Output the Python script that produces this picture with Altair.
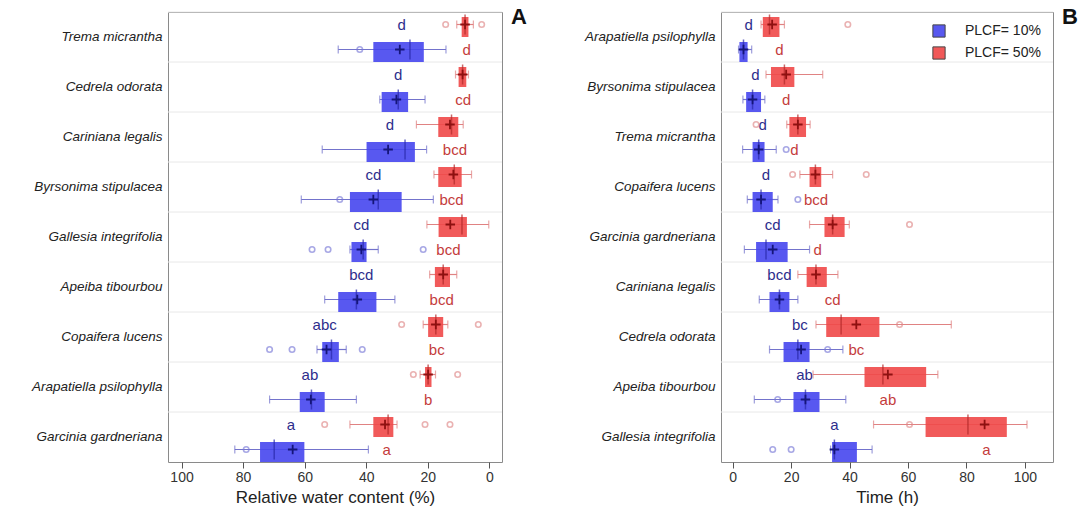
import altair as alt
import pandas as pd

G10 = "PLCF= 10%"
G50 = "PLCF= 50%"
FONT = "Liberation Sans"

# ---------------- Panel A : Relative water content (%) ----------------
species_A = ["Trema micrantha", "Cedrela odorata", "Cariniana legalis",
             "Byrsonima stipulacea", "Gallesia integrifolia", "Apeiba tibourbou",
             "Copaifera lucens", "Arapatiella psilophylla", "Garcinia gardneriana"]

a10_lo = [14.1, 20.9, 20.4, 18.2, 36.1, 30.7, 46.5, 43.2, 39.3]
a10_q1 = [21.3, 26.4, 24.2, 28.5, 39.9, 36.7, 48.9, 53.5, 60.1]
a10_med = [25.8, 29.6, 27.4, 36.1, 41.0, 43.2, 51.3, 57.8, 69.9]
a10_q3 = [37.7, 35.0, 39.9, 45.3, 44.8, 49.1, 54.3, 61.6, 74.5]
a10_hi = [49.1, 35.6, 54.3, 61.1, 45.3, 53.5, 56.0, 71.4, 82.7]
a10_mean = [29.1, 30.2, 32.9, 37.7, 41.6, 42.9, 52.9, 58.0, 63.9]
a10_letters = ["d", "d", "d", "cd", "cd", "bcd", "abc", "ab", "a"]
a10_letter_x = [28.5, 29.6, 32.3, 37.7, 41.6, 41.6, 53.5, 58.3, 64.5]
a10_pts = [("Trema micrantha", 42.1), ("Byrsonima stipulacea", 48.6),
           ("Gallesia integrifolia", 57.6), ("Gallesia integrifolia", 52.4),
           ("Gallesia integrifolia", 21.5), ("Copaifera lucens", 71.4),
           ("Copaifera lucens", 64.1), ("Copaifera lucens", 41.3),
           ("Garcinia gardneriana", 79.0)]

a50_lo = [5.2, 6.8, 8.5, 5.8, 0.2, 10.6, 13.5, 17.5, 30.0]
a50_q1 = [6.8, 7.5, 10.1, 9.0, 7.3, 12.8, 15.0, 18.8, 31.2]
a50_med = [7.9, 8.7, 12.3, 11.4, 8.9, 15.0, 17.4, 19.9, 32.9]
a50_q3 = [9.0, 10.0, 16.6, 16.6, 16.5, 17.7, 19.9, 20.9, 37.7]
a50_hi = [10.6, 11.0, 23.7, 18.0, 20.3, 19.4, 21.5, 22.5, 45.3]
a50_mean = [7.9, 8.7, 12.8, 11.7, 12.7, 15.0, 17.4, 19.9, 33.9]
a50_letters = ["d", "cd", "bcd", "bcd", "bcd", "bcd", "bc", "b", "a"]
a50_letter_x = [7.4, 8.5, 11.2, 12.3, 13.3, 15.5, 17.1, 19.9, 33.4]
a50_pts = [("Trema micrantha", 14.2), ("Trema micrantha", 2.5),
           ("Copaifera lucens", 28.5), ("Copaifera lucens", 3.6),
           ("Arapatiella psilophylla", 24.7), ("Arapatiella psilophylla", 10.3),
           ("Garcinia gardneriana", 53.5), ("Garcinia gardneriana", 20.9),
           ("Garcinia gardneriana", 12.8)]

# ---------------- Panel B : Time (h) ----------------
species_B = ["Arapatiella psilophylla", "Byrsonima stipulacea", "Trema micrantha",
             "Copaifera lucens", "Garcinia gardneriana", "Cariniana legalis",
             "Cedrela odorata", "Apeiba tibourbou", "Gallesia integrifolia"]

b10_lo = [2.0, 3.5, 3.4, 5.0, 4.0, 9.1, 12.6, 7.4, 33.5]
b10_q1 = [2.3, 4.6, 6.8, 6.8, 8.0, 12.6, 17.4, 20.8, 34.0]
b10_med = [3.7, 6.8, 8.9, 9.7, 11.4, 16.0, 22.3, 24.9, 34.8]
b10_q3 = [5.1, 9.7, 10.9, 13.7, 18.8, 19.4, 26.3, 29.7, 42.5]
b10_hi = [6.5, 11.0, 14.9, 15.5, 26.3, 22.3, 37.7, 38.7, 47.7]
b10_mean = [3.7, 6.8, 8.9, 9.7, 13.7, 16.0, 23.4, 24.9, 34.8]
b10_letters = ["d", "d", "d", "d", "cd", "bcd", "bc", "ab", "a"]
b10_letter_x = [5.5, 7.8, 10.3, 11.4, 13.7, 16.0, 23.0, 24.6, 34.8]
b10_pts = [("Trema micrantha", 18.3), ("Copaifera lucens", 22.3),
           ("Cedrela odorata", 32.5), ("Apeiba tibourbou", 15.4),
           ("Gallesia integrifolia", 13.7), ("Gallesia integrifolia", 20.0)]

b50_lo = [9.7, 11.4, 18.5, 23.0, 26.3, 22.3, 28.5, 27.5, 48.2]
b50_q1 = [10.3, 13.1, 19.4, 26.3, 31.4, 25.3, 32.0, 45.1, 66.0]
b50_med = [12.6, 17.7, 22.3, 28.3, 34.2, 28.5, 37.1, 51.4, 80.5]
b50_q3 = [16.0, 21.1, 25.1, 30.3, 38.3, 32.2, 50.2, 66.2, 93.8]
b50_hi = [17.7, 30.8, 26.5, 34.2, 39.9, 36.0, 74.8, 70.2, 100.7]
b50_mean = [13.5, 18.3, 22.3, 28.3, 34.2, 28.5, 42.3, 53.1, 86.2]
b50_letters = ["d", "d", "d", "bcd", "d", "cd", "bc", "ab", "a"]
b50_letter_x = [16.0, 18.3, 21.1, 28.5, 29.1, 34.2, 42.3, 53.1, 86.8]
b50_pts = [("Arapatiella psilophylla", 39.4), ("Trema micrantha", 8.0),
           ("Copaifera lucens", 20.5), ("Copaifera lucens", 45.7),
           ("Garcinia gardneriana", 60.5), ("Cedrela odorata", 57.1),
           ("Gallesia integrifolia", 60.5)]

BLUE = dict(box="#4646ee", whisk="#7373cc", med="#2828a8", mean="#15157a",
            pt="#7a7ad8", letter="#2d2d8c")
RED = dict(box="#f04848", whisk="#e08282", med="#b02828", mean="#8e1010",
           pt="#e08a8a", letter="#c43c3c")

COLOR_SCALE = alt.Scale(domain=[G10, G50], range=[BLUE["box"], RED["box"]])
CROSS = "M-1,0L1,0M0,-1L0,1"


def y_enc(species, band_pos=None):
    kw = {}
    if band_pos is not None:
        kw["bandPosition"] = band_pos
    return alt.Y("species:N", sort=species, title=None,
                 scale=alt.Scale(paddingInner=0, paddingOuter=0),
                 axis=alt.Axis(labelFont=FONT, labelFontStyle="italic",
                               labelFontSize=13.5, labelColor="#222222",
                               ticks=False, domain=False, grid=False,
                               labelPadding=6), **kw)


def yoff(field):
    return alt.YOffset(field, scale=alt.Scale(domain=[G50, G10],
                                              paddingInner=0, paddingOuter=0))


def group_layers(species, group, other, lo, q1, med, q3, hi, mean, letters,
                 letter_x, pts, col, x_scale, x_axis, x_title, legend):
    df = pd.DataFrame({"species": species, "group": group, "lrow": other,
                       "lo": lo, "q1": q1, "med": med, "q3": q3, "hi": hi,
                       "mean": mean, "letter": letters, "lx": letter_x})
    pdf = pd.DataFrame({"species": [p[0] for p in pts],
                        "v": [p[1] for p in pts], "group": group})
    y = y_enc(species)

    def X(f):
        return alt.X(f, scale=x_scale, axis=x_axis, title=x_title)

    base = alt.Chart(df)
    whisk = base.mark_rule(color=col["whisk"], strokeWidth=1.2).encode(
        x=X("lo:Q"), x2="hi:Q", y=y, yOffset=yoff("group:N"))
    cap_lo = base.mark_tick(color=col["whisk"], size=8, thickness=1.2).encode(
        x=X("lo:Q"), y=y, yOffset=yoff("group:N"))
    cap_hi = base.mark_tick(color=col["whisk"], size=8, thickness=1.2).encode(
        x=X("hi:Q"), y=y, yOffset=yoff("group:N"))
    box = base.mark_bar(height=alt.RelativeBandSize(0.8), opacity=0.9).encode(
        x=X("q1:Q"), x2="q3:Q", y=y, yOffset=yoff("group:N"),
        color=alt.Color("group:N", scale=COLOR_SCALE, legend=legend))
    median = base.mark_tick(color=col["med"], size=20, thickness=1.5).encode(
        x=X("med:Q"), y=y, yOffset=yoff("group:N"))
    meanp = base.mark_point(shape=CROSS, filled=False, size=90,
                            strokeWidth=1.8, color=col["mean"], opacity=1).encode(
        x=X("mean:Q"), y=y, yOffset=yoff("group:N"))
    points = alt.Chart(pdf).mark_point(shape="circle", filled=False, size=30,
                                       strokeWidth=1.6, color=col["pt"],
                                       opacity=0.65).encode(
        x=X("v:Q"), y=y, yOffset=yoff("group:N"))
    text = base.mark_text(font=FONT, fontSize=15, color=col["letter"]).encode(
        x=X("lx:Q"), y=y, yOffset=yoff("lrow:N"), text="letter:N")
    return [whisk, cap_lo, cap_hi, points, box, median, meanp, text]


def panel(species, g10, g50, x_scale, x_title, label, width, legend):
    x_axis = alt.Axis(values=[0, 20, 40, 60, 80, 100], tickSize=6,
                      tickColor="#555555", labelFont=FONT, labelFontSize=14,
                      labelColor="#333333", titleFont=FONT, titleFontSize=17,
                      titleFontWeight="normal", titleColor="#222222",
                      domain=False, grid=False, labelPadding=2, titlePadding=5)
    grid = alt.Chart(pd.DataFrame({"species": species})).mark_rule(
        color="#e8e8e8", strokeWidth=1).encode(y=y_enc(species, 0))
    l10 = group_layers(species, G10, G50, *g10, BLUE, x_scale, x_axis, x_title, legend)
    l50 = group_layers(species, G50, G10, *g50, RED, x_scale, x_axis, x_title, legend)
    tag = alt.Chart(pd.DataFrame({"t": [label]})).mark_text(
        font=FONT, fontSize=22, fontWeight="bold", align="left",
        baseline="middle", color="#111111").encode(
        text="t:N", x=alt.value(width + 9), y=alt.value(5))
    return alt.layer(grid, *l10, *l50, tag).properties(width=width, height=450)


scale_A = alt.Scale(domain=[-4.1, 104.4], reverse=True, nice=False, zero=False)
scale_B = alt.Scale(domain=[-4.0, 109.6], nice=False, zero=False)

legend_B = alt.Legend(title=None, orient="top-right", offset=12,
                      symbolType="square", symbolSize=150,
                      symbolStrokeColor="#333333", symbolStrokeWidth=1,
                      symbolOpacity=0.9, labelFont=FONT, labelFontSize=14,
                      labelColor="#222222", labelOffset=19, rowPadding=4,
                      padding=0)

pA = panel(species_A,
           (a10_lo, a10_q1, a10_med, a10_q3, a10_hi, a10_mean, a10_letters, a10_letter_x, a10_pts),
           (a50_lo, a50_q1, a50_med, a50_q3, a50_hi, a50_mean, a50_letters, a50_letter_x, a50_pts),
           scale_A, "Relative water content (%)", "A", 334, None)
pB = panel(species_B,
           (b10_lo, b10_q1, b10_med, b10_q3, b10_hi, b10_mean, b10_letters, b10_letter_x, b10_pts),
           (b50_lo, b50_q1, b50_med, b50_q3, b50_hi, b50_mean, b50_letters, b50_letter_x, b50_pts),
           scale_B, "Time (h)", "B", 332, legend_B)

chart = alt.hconcat(pA, pB, spacing=219, bounds="flush").resolve_scale(
    color="independent").resolve_legend(color="independent").properties(
    padding={"left": 30, "top": 5, "right": 4, "bottom": 0},
    background="white").configure_view(stroke="#8a8a8a", strokeWidth=1)

chart.save("out.html", embed_options={"renderer": "svg", "actions": False})
